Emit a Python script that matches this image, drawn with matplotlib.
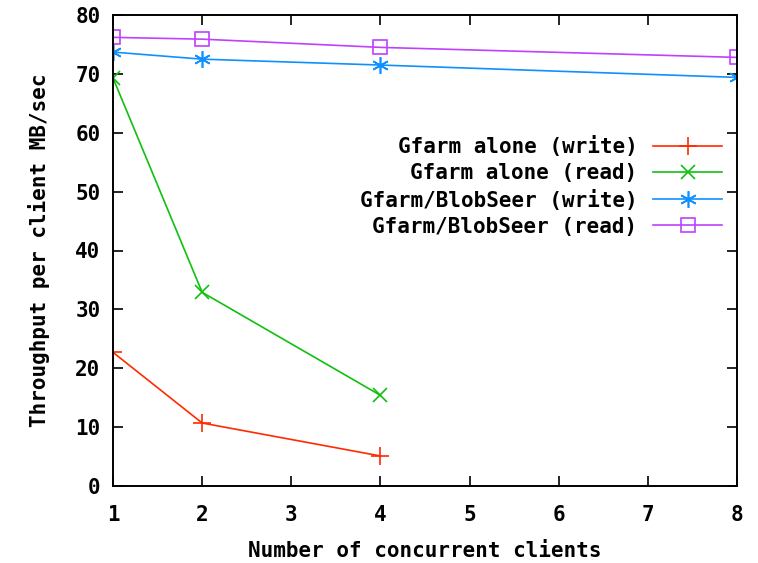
import matplotlib
matplotlib.use("Agg")
import matplotlib.pyplot as plt

clients_alone = [1, 2, 4]
clients_blob = [1, 2, 4, 8]
gfarm_write = [22.7, 10.7, 5.1]
gfarm_read = [69.3, 32.9, 15.4]
blob_write = [73.7, 72.5, 71.5, 69.4]
blob_read = [76.2, 75.9, 74.5, 72.8]
labels = ["Gfarm alone (write)", "Gfarm alone (read)",
          "Gfarm/BlobSeer (write)", "Gfarm/BlobSeer (read)"]
xticks = [1, 2, 3, 4, 5, 6, 7, 8]
yticks = [0, 10, 20, 30, 40, 50, 60, 70, 80]

FS = 15
plt.rcParams['font.family'] = ['DejaVu Sans Mono']
plt.rcParams['font.weight'] = 'bold'

fig = plt.figure(figsize=(7.58, 5.63), dpi=100)
ax = fig.add_axes([113/758, 1-486/563, (737-113)/758, (486-15)/563])

ax.plot(clients_alone, gfarm_write, color='#ff2a00', marker='+', ms=13, mew=1.2, lw=1.2, label=labels[0])
ax.plot(clients_alone, gfarm_read, color='#10c010', marker='x', ms=10, mew=1.2, lw=1.2, label=labels[1])
ax.plot(clients_blob, blob_write, color='#1090ff', marker=(6, 2, 0), ms=12, mew=1.2, lw=1.2, label=labels[2])
ax.plot(clients_blob, blob_read, color='#c040ff', marker='s', ms=10, mew=1.2, mfc='none', lw=1.2, label=labels[3])

ax.set_xlim(1, 8)
ax.set_ylim(0, 80)
ax.set_xticks(xticks)
ax.set_yticks(yticks)
ax.tick_params(direction='in', top=True, right=True, length=7, width=1.2, labelsize=FS)
ax.tick_params(axis='x', pad=14)
ax.tick_params(axis='y', pad=9)
for lab in ax.get_xticklabels() + ax.get_yticklabels():
    lab.set_fontweight('bold')
for s in ax.spines.values():
    s.set_linewidth(1.4)

ax.set_xlabel("Number of concurrent clients", fontsize=FS, fontweight='bold', labelpad=11)
ax.set_ylabel("Throughput per client MB/sec", fontsize=FS, fontweight='bold', labelpad=18)

leg = ax.legend(loc='upper right', bbox_to_anchor=((722-113)/624, (486-136)/471),
                frameon=False, borderaxespad=0, borderpad=0,
                markerfirst=False, handlelength=3.3, handletextpad=0.75, labelspacing=0.3,
                prop={'weight': 'bold', 'size': FS, 'family': 'DejaVu Sans Mono'})
for t in leg.get_texts():
    t.set_ha('right')
leg._legend_box.align = "right"

fig.savefig("out.png", dpi=100)
